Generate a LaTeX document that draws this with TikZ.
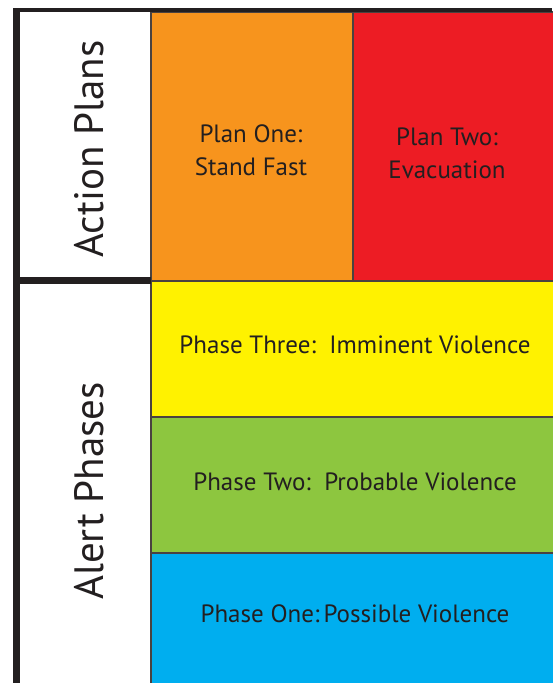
\documentclass[tikz,border=0pt]{standalone}
\usepackage{fontspec}
\setmainfont{PT Sans}
\definecolor{ink}{HTML}{231F20}
\definecolor{cOrange}{HTML}{F7941D}
\definecolor{cRed}{HTML}{ED1C24}
\definecolor{cYellow}{HTML}{FFF200}
\definecolor{cGreen}{HTML}{8DC63F}
\definecolor{cBlue}{HTML}{00AEEF}
\definecolor{edge}{HTML}{4A4240}
\tikzset{
  cell/.style={draw=edge, line width=1.2pt, inner sep=0pt, outer sep=0pt},
  celltext/.style={text=ink, font=\fontsize{25}{33}\selectfont, align=center, inner sep=0pt, anchor=base},
  sidetext/.style={text=ink, font=\fontsize{41}{48}\selectfont, rotate=90, inner sep=0pt, anchor=base},
  bar/.style={fill=ink, draw=none}
}
\begin{document}
\begin{tikzpicture}[x=1pt,y=-1pt]
\useasboundingbox (0,0) rectangle (552,683);
% colored cells
\path[cell, fill=cOrange] (151,12) rectangle (353,281);
\path[cell, fill=cRed] (353,12) rectangle (560,281);
\path[cell, fill=cYellow] (151,281) rectangle (560,417);
\path[cell, fill=cGreen] (151,417) rectangle (560,553);
\path[cell, fill=cBlue] (151,553) rectangle (560,690);
% thick frame bars
\path[bar] (13,8) rectangle (552,12);
\path[bar] (13,8) rectangle (20,683);
\path[bar] (13,277) rectangle (151,284);
% texts
\node[celltext] (p1) at (251,175) {Plan One:\\Stand Fast};
\node[celltext] (p2) at (447,178) {Plan Two:\\Evacuation};
\node[celltext] (ph3) at (355,353) {Phase Three:\ \ Imminent Violence};
\node[celltext] (ph2) at (355,490) {Phase Two:\ \ Probable Violence};
\node[celltext] (ph1) at (355,622) {Phase One:\,Possible Violence};
\node[sidetext] (ap) at (103,149) {Action Plans};
\node[sidetext] (al) at (103,491) {Alert Phases};
\end{tikzpicture}
\end{document}
